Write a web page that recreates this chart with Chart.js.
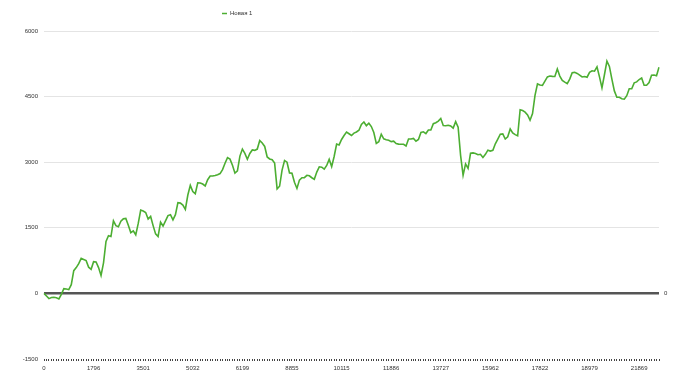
<!DOCTYPE html>
<html>
<head>
<meta charset="utf-8">
<script src="https://cdn.jsdelivr.net/npm/chart.js@4"></script>
<style>
html,body{margin:0;padding:0;background:#fff;}
#wrap{width:700px;height:377px;position:relative;}
</style>
</head>
<body>
<div id="wrap"><canvas id="c"></canvas></div>
<script>
const seriesName = 'Новая 1';
const tickLabels = ['0','1796','3501','5032','6199','8855','10115','11886','13727','15962','17822','18979','21869'];
const labelEvery = 20;
const yTicks = [-1500, 0, 1500, 3000, 4500, 6000];
const values = [
0,-60,-120,-95,-90,-100,-125,-20,110,100,
85,200,520,590,680,800,775,750,600,551,
725,720,590,410,700,1190,1320,1300,1660,1550,
1525,1650,1705,1715,1560,1390,1430,1340,1600,1905,
1885,1850,1700,1760,1550,1360,1300,1630,1540,1660,
1780,1800,1680,1800,2074,2065,2020,1920,2250,2470,
2330,2280,2530,2525,2500,2456,2600,2685,2685,2695,
2715,2740,2830,2975,3105,3070,2930,2750,2800,3140,
3300,3200,3067,3200,3280,3270,3300,3495,3440,3360,
3120,3075,3055,2980,2390,2450,2820,3040,3000,2755,
2748,2540,2400,2590,2646,2646,2700,2690,2645,2609,
2775,2895,2885,2840,2925,3065,2900,3130,3415,3395,
3520,3610,3690,3650,3610,3665,3690,3730,3865,3920,
3835,3890,3815,3680,3430,3470,3640,3535,3515,3500,
3470,3482,3425,3413,3410,3410,3370,3530,3530,3545,
3480,3520,3680,3695,3655,3735,3735,3880,3904,3940,
4000,3840,3835,3845,3830,3780,3927,3800,3150,2700,
2960,2861,3204,3212,3200,3170,3181,3110,3180,3275,
3255,3270,3420,3530,3640,3646,3530,3580,3760,3670,
3630,3605,4200,4180,4145,4080,3960,4110,4530,4790,
4766,4755,4855,4950,4972,4962,4960,5130,4970,4870,
4830,4798,4900,5045,5054,5030,4990,4948,4958,4943,
5055,5090,5080,5180,4950,4700,5000,5310,5190,4900,
4630,4485,4485,4450,4440,4520,4680,4680,4815,4836,
4890,4925,4760,4760,4820,4990,4995,4975,5171
];
const categories = values.map((_, i) => i);
const FONT = '"Liberation Sans", Arial, sans-serif';

const legendPlugin = {
  id: 'customLegend',
  afterDraw(chart) {
    const ctx = chart.ctx;
    ctx.save();
    ctx.strokeStyle = '#4cae32';
    ctx.lineWidth = 1.5;
    ctx.beginPath();
    ctx.moveTo(222, 13.5);
    ctx.lineTo(227, 13.5);
    ctx.stroke();
    ctx.fillStyle = '#333';
    ctx.font = '6px ' + FONT;
    ctx.textBaseline = 'middle';
    ctx.textAlign = 'left';
    ctx.fillText(chart.data.datasets[0].label, 230, 13.5);
    ctx.restore();
  }
};

new Chart(document.getElementById('c'), {
  type: 'line',
  data: {
    labels: categories,
    datasets: [{
      label: seriesName,
      data: values,
      borderColor: '#4cae32',
      backgroundColor: '#4cae32',
      borderWidth: 1.6,
      pointRadius: 0,
      tension: 0,
      fill: false,
      yAxisID: 'y'
    }]
  },
  options: {
    responsive: true,
    maintainAspectRatio: false,
    animation: false,
    layout: { padding: { top: 31, left: 0, right: 0, bottom: 0 } },
    plugins: { legend: { display: false }, tooltip: { enabled: false } },
    scales: {
      x: {
        type: 'category',
        offset: false,
        border: { display: false },
        grid: { drawOnChartArea: false, drawTicks: true, tickLength: 2, color: '#444', lineWidth: 1 },
        ticks: {
          autoSkip: false, maxRotation: 0, minRotation: 0, padding: 4,
          color: '#333', font: { size: 6, family: FONT },
          callback: (v, i) => (i % labelEvery === 0 && tickLabels[i / labelEvery] !== undefined) ? tickLabels[i / labelEvery] : ''
        },
        afterFit: s => { s.height = 18; }
      },
      y: {
        position: 'left',
        min: yTicks[0], max: yTicks[yTicks.length - 1],
        afterBuildTicks: s => { s.ticks = yTicks.map(v => ({ value: v })); },
        border: { display: false },
        grid: {
          drawTicks: false,
          color: c => c.tick.value === 0 ? '#555' : (c.tick.value === -1500 ? 'rgba(0,0,0,0)' : '#e4e4e4'),
          lineWidth: c => c.tick.value === 0 ? 2.5 : 1
        },
        ticks: { padding: 6, color: '#333', font: { size: 6, family: FONT }, callback: v => String(v) },
        afterFit: s => { s.width = 44; }
      },
      y2: {
        position: 'right',
        min: yTicks[0], max: yTicks[yTicks.length - 1],
        afterBuildTicks: s => { s.ticks = yTicks.map(v => ({ value: v })); },
        border: { display: false },
        grid: { display: false, drawTicks: false },
        ticks: { padding: 5, color: '#333', font: { size: 6, family: FONT },
          callback: v => v === 0 ? '0' : '' },
        afterFit: s => { s.width = 41; }
      }
    }
  },
  plugins: [legendPlugin]
});
</script>
</body>
</html>
